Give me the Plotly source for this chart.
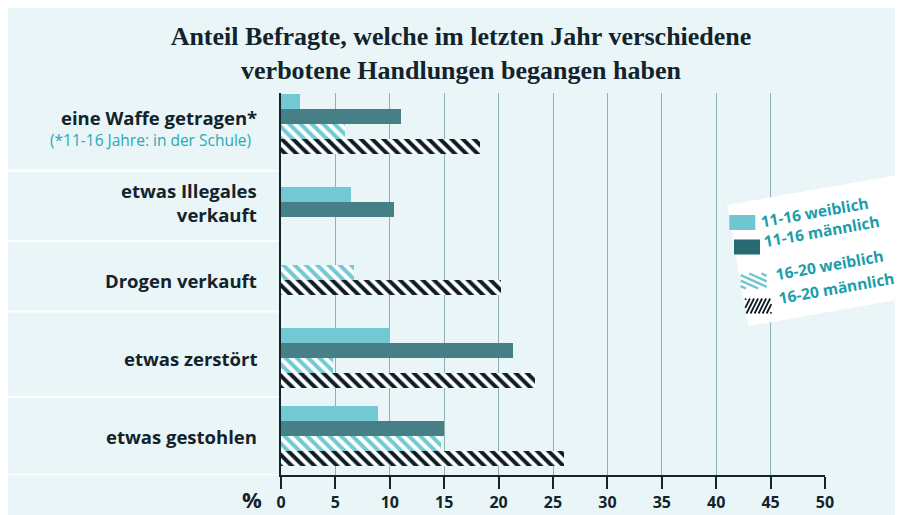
import math
import plotly.graph_objects as go

# ---------------- data ----------------
categories = ["eine Waffe getragen*", "etwas Illegales verkauft", "Drogen verkauft",
              "etwas zerstört", "etwas gestohlen"]
category_labels = ["eine Waffe getragen*", "etwas Illegales<br>verkauft", "Drogen verkauft",
                   "etwas zerstört", "etwas gestohlen"]
footnote = "(*11-16 Jahre: in der Schule)"
series_names = ["11-16 weiblich", "11-16 männlich", "16-20 weiblich", "16-20 männlich"]
w_11_16 = [1.7, 6.4, None, 10.0, 8.9]
m_11_16 = [11.0, 10.4, None, 21.3, 15.0]
w_16_20 = [5.9, None, 6.7, 4.8, 14.7]
m_16_20 = [18.3, None, 20.2, 23.3, 26.0]
x_ticks = [0, 5, 10, 15, 20, 25, 30, 35, 40, 45, 50]
title_text = "Anteil Befragte, welche im letzten Jahr verschiedene<br>verbotene Handlungen begangen haben"

# ---------------- layout constants ----------------
OFF = 8                      # page body margin
W, H = 895, 507
ML, MR, MT = 273, 78, 85
MB = H - 467
PW, PH = W - ML - MR, H - MT - MB
BG = "#e9f5f7"
DARK = "#13232b"
TEAL_TXT = "#1b9dab"
BAR_T = 0.193
Y_TOP, Y_BOTTOM = -0.4, 4.5

colors = ["#72c8d3", "#467f86", "#72c8d3", "#0e1d25"]
legend_colors = ["#6ec6d1", "#256a70", "#6ec6d1", "#0e1d25"]
hatched = [False, False, True, True]
series_vals = [w_11_16, m_11_16, w_16_20, m_16_20]


def px2paper(sx, sy):
    fx, fy = sx - OFF, sy - OFF
    return ((fx - ML) / PW, (H - MB - fy) / PH)


# bar positions: bars of a category centred on its index
n_cat = len(categories)
pos = [[None] * n_cat for _ in series_vals]
group_extent = []
for i in range(n_cat):
    present = [s for s in range(len(series_vals)) if series_vals[s][i] is not None]
    n = len(present)
    for k, s in enumerate(present):
        pos[s][i] = i + (k - (n - 1) / 2) * BAR_T
    group_extent.append((i - n * BAR_T / 2, i + n * BAR_T / 2))

fig = go.Figure()
for s, vals in enumerate(series_vals):
    xs = [v for v in vals if v is not None]
    ys = [pos[s][i] for i, v in enumerate(vals) if v is not None]
    marker = dict(color=colors[s], line=dict(width=0))
    if hatched[s]:
        marker["pattern"] = dict(shape="\\", fgcolor=colors[s], bgcolor="#ffffff",
                                 size=8, solidity=0.5, fillmode="replace", fgopacity=1)
    fig.add_trace(go.Bar(x=xs, y=ys, orientation="h", width=BAR_T, name=series_names[s],
                         marker=marker, showlegend=False))

shapes = []
annotations = []

x_left_paper = px2paper(OFF, 0)[0]

# white separators in label column
for i in range(n_cat - 1):
    ysep = (group_extent[i][1] + group_extent[i + 1][0]) / 2
    shapes.append(dict(type="line", xref="paper", yref="y", x0=x_left_paper, x1=0, y0=ysep, y1=ysep,
                       line=dict(color="white", width=2), layer="below"))
shapes.append(dict(type="line", xref="paper", yref="y", x0=x_left_paper, x1=0, y0=Y_BOTTOM, y1=Y_BOTTOM,
                   line=dict(color="white", width=2), layer="below"))

# category labels
for i, lab in enumerate(category_labels):
    ys = 7 if i == 0 else 0
    annotations.append(dict(text=lab, xref="paper", yref="y", x=0, y=i, xshift=-22, yshift=ys,
                            xanchor="right", yanchor="middle", showarrow=False, align="right",
                            font=dict(family="Open Sans", size=18.5, color=DARK, weight="bold")))
annotations.append(dict(text=footnote, xref="paper", yref="y", x=0, y=0, xshift=-28, yshift=-16,
                        xanchor="right", yanchor="middle", showarrow=False,
                        font=dict(family="Open Sans", size=15.5, color="#2aa9b7")))

# percent sign
px_, py_ = px2paper(252, 499)
annotations.append(dict(text="%", xref="paper", yref="paper", x=px_, y=py_, xanchor="center",
                        yanchor="middle", showarrow=False,
                        font=dict(family="Open Sans", size=22, color=DARK, weight="bold")))

# ---------------- rotated legend ----------------
theta = math.radians(10)
c, s_ = math.cos(theta), math.sin(theta)
TLx, TLy = 727, 205


def loc(u, v):
    return px2paper(TLx + u * c + v * s_, TLy - u * s_ + v * c)


def path_of(pts):
    return "M " + " L ".join(f"{x:.5f},{y:.5f}" for x, y in pts) + " Z"


box_w, box_h = 200, 123
shapes.append(dict(type="path", xref="paper", yref="paper",
                   path=path_of([loc(0, 0), loc(box_w, 0), loc(box_w, box_h), loc(0, box_h)]),
                   fillcolor="white", line=dict(width=0)))


def clipped_stripes(x0, y0, x1, y1, d, period, color, lw):
    """stripes (screen px) of direction d inside axis-aligned rect"""
    dx, dy = d
    ln = math.hypot(dx, dy)
    dx, dy = dx / ln, dy / ln
    nx, ny = -dy, dx
    cx, cy = (x0 + x1) / 2, (y0 + y1) / 2
    half = math.hypot(x1 - x0, y1 - y0) / 2
    out = []
    k = -int(half / period) - 1
    while k * period <= half + period:
        ox, oy = cx + nx * k * period, cy + ny * k * period
        tlo, thi = -1e9, 1e9
        ok = True
        for p, dp, lo, hi in ((ox, dx, x0, x1), (oy, dy, y0, y1)):
            if abs(dp) < 1e-9:
                if p < lo or p > hi:
                    ok = False
            else:
                ta, tb = (lo - p) / dp, (hi - p) / dp
                tlo, thi = max(tlo, min(ta, tb)), min(thi, max(ta, tb))
        if ok and thi - tlo > 0.8:
            a = px2paper(ox + dx * tlo, oy + dy * tlo)
            b = px2paper(ox + dx * thi, oy + dy * thi)
            out.append(dict(type="line", xref="paper", yref="paper", x0=a[0], y0=a[1],
                            x1=b[0], y1=b[1], line=dict(color=color, width=lw)))
        k += 1
    return out


swatch_c = [(742.3, 222.5), (747, 247), (753.7, 281), (758.3, 306)]
stripe_dir = [None, None, (1, 0.45), (0.5, -1)]
stripe_period = [None, None, 5.0, 3.6]
stripe_lw = [None, None, 2.4, 1.8]
sw_w, sw_h = 26, 15
text_c = [(85, 22), (89, 42), (90, 77), (93, 101)]
for k in range(4):
    cx, cy = swatch_c[k]
    x0, x1, y0, y1 = cx - sw_w / 2, cx + sw_w / 2, cy - sw_h / 2, cy + sw_h / 2
    if not hatched[k]:
        a = px2paper(x0, y1)
        b = px2paper(x1, y0)
        shapes.append(dict(type="rect", xref="paper", yref="paper", x0=a[0], y0=a[1],
                           x1=b[0], y1=b[1], fillcolor=legend_colors[k], line=dict(width=0)))
    else:
        shapes.extend(clipped_stripes(x0, y0, x1, y1, stripe_dir[k], stripe_period[k],
                                      legend_colors[k], stripe_lw[k]))
    tx, ty = loc(*text_c[k])
    annotations.append(dict(text=series_names[k], xref="paper", yref="paper", x=tx, y=ty,
                            xanchor="center", yanchor="middle", textangle=-10, showarrow=False,
                            font=dict(family="Open Sans", size=15.5, color=TEAL_TXT, weight="bold")))

fig.update_layout(
    width=W, height=H,
    margin=dict(l=ML, r=MR, t=MT, b=MB, pad=0, autoexpand=False),
    paper_bgcolor=BG,
    plot_bgcolor="rgba(0,0,0,0)",
    barmode="overlay",
    bargap=0,
    title=dict(text=title_text, x=(461 - OFF) / W, xref="container", xanchor="center",
               y=1 - 37 / H, yref="container", yanchor="middle",
               font=dict(family="Liberation Serif", size=26, color=DARK, weight="bold")),
    xaxis=dict(range=[0, 50], tickvals=x_ticks, ticktext=[str(t) for t in x_ticks],
               showgrid=True, gridcolor="#8fb1b6", gridwidth=1, zeroline=False,
               showline=True, linecolor=DARK, linewidth=1.5,
               ticks="outside", ticklen=12, tickcolor=DARK, tickwidth=1.5,
               tickfont=dict(family="Open Sans", size=16, color=DARK, weight="bold"),
               fixedrange=True, automargin=False),
    yaxis=dict(range=[Y_BOTTOM, Y_TOP], showgrid=False, zeroline=False, showticklabels=False,
               showline=True, linecolor=DARK, linewidth=2, ticks="", fixedrange=True,
               automargin=False),
    shapes=shapes,
    annotations=annotations,
    font=dict(family="Open Sans"),
)

fig.write_html("out.html")
